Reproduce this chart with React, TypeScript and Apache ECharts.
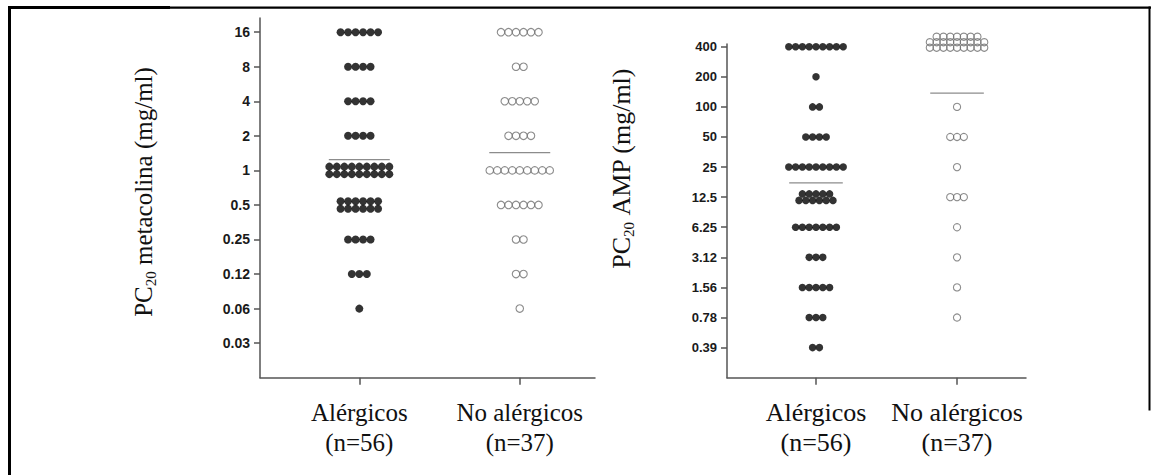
import React, { useEffect, useRef } from "react";
import * as echarts from "echarts";

// ---------- DATA ----------
const groupNames = ["Alérgicos", "No alérgicos"];
const groupCounts = [56, 37];

// Panel 1: PC20 metacolina (mg/ml)
const metaLevels = [16, 8, 4, 2, 1, 0.5, 0.25, 0.125, 0.0625, 0.03125];
const metaTickLabels = ["16", "8", "4", "2", "1", "0.5", "0.25", "0.12", "0.06", "0.03"];
// number of subjects per level, split into stacked rows (top to bottom)
const metaAlergicosRows = [[6], [4], [4], [4], [9, 9], [6, 6], [4], [3], [1], []];
const metaNoAlergicosRows = [[6], [2], [5], [4], [9], [6], [2], [2], [1], []];
const metaMeans = [1.24, 1.43];

// Panel 2: PC20 AMP (mg/ml)
const ampLevels = [400, 200, 100, 50, 25, 12.5, 6.25, 3.125, 1.5625, 0.78125, 0.390625];
const ampTickLabels = ["400", "200", "100", "50", "25", "12.5", "6.25", "3.12", "1.56", "0.78", "0.39"];
const ampAlergicosRows = [[9], [1], [2], [4], [9], [5, 6], [7], [3], [5], [3], [2]];
const ampNoAlergicosRows = [[7, 9, 9], [], [1], [3], [1], [3], [1], [1], [1], [1], []];
const ampMeans = [17.4, 137];

// ---------- HELPERS ----------
const SERIF = '"Liberation Serif", "Times New Roman", "DejaVu Serif", serif';
const SANS = '"Liberation Sans", Arial, Helvetica, sans-serif';

const log2pos = (v: number, base: number) => Math.log2(v / base);

function buildPoints(
  levels: number[],
  rows: number[][],
  base: number,
  groupX: number,
  spacing: number,
  rowGap: number,
  multiShift: number
) {
  const pts: any[] = [];
  levels.forEach((lv, i) => {
    const r = rows[i];
    const n = r.length;
    r.forEach((count, ri) => {
      const dy = (ri - (n - 1) / 2) * rowGap + (n > 2 ? multiShift : 0);
      for (let k = 0; k < count; k++) {
        const dx = (k - (count - 1) / 2) * spacing;
        pts.push({ value: [groupX, log2pos(lv, base)], symbolOffset: [dx, dy] });
      }
    });
  });
  return pts;
}

function tickFormatter(levels: number[], labels: string[], base: number) {
  return (val: number) => {
    const i = levels.findIndex((l) => Math.abs(log2pos(l, base) - val) < 1e-6);
    return i >= 0 ? labels[i] : "";
  };
}

const META_BASE = metaLevels[metaLevels.length - 1];
const AMP_BASE = ampLevels[ampLevels.length - 1];

function xLabelFormatter(v: number) {
  const i = Math.round(v) - 1;
  if (i < 0 || i >= groupNames.length) return "";
  return `{a|${groupNames[i]}}\n{a|(n=${groupCounts[i]})}`;
}

function makeYAxis(gridIndex: number, levels: number[], labels: string[], base: number, max: number, fontSize: number) {
  const vals = levels.map((l) => log2pos(l, base));
  return {
    gridIndex,
    type: "value",
    min: -1,
    max,
    interval: 1,
    splitLine: { show: false },
    axisLine: { show: true, onZero: false, lineStyle: { color: "#555", width: 1.5 } },
    axisTick: { show: true, length: 6, customValues: vals, lineStyle: { color: "#555", width: 1.5 } },
    axisLabel: {
      show: true,
      customValues: vals,
      formatter: tickFormatter(levels, labels, base),
      fontFamily: SANS,
      fontWeight: "bold",
      fontSize,
      color: "#1a1a1a",
      margin: 10,
    },
  };
}

function makeXAxis(gridIndex: number, min: number, max: number, fontSize: number) {
  return {
    gridIndex,
    type: "value",
    min,
    max,
    splitLine: { show: false },
    axisLine: { show: true, onZero: false, lineStyle: { color: "#555", width: 1.5 } },
    axisTick: { show: true, length: 7, customValues: [1, 2], lineStyle: { color: "#555", width: 1.5 } },
    axisLabel: {
      show: true,
      customValues: [1, 2],
      formatter: xLabelFormatter,
      margin: 20,
      rich: {
        a: { fontFamily: SERIF, fontSize, lineHeight: 30, color: "#111", align: "center" },
      },
    },
  };
}

const filledStyle = { color: "#000" };
const openStyle = { color: "rgba(255,255,255,0)", borderColor: "#6f6f6f", borderWidth: 1.1 };
const meanStyle = { color: "#8c8c8c", width: 1.3 };

function meanSeries(xi: number, groupX: number, mean: number, base: number, half: number) {
  const y = log2pos(mean, base);
  return {
    type: "line",
    xAxisIndex: xi,
    yAxisIndex: xi,
    symbol: "none",
    silent: true,
    lineStyle: meanStyle,
    data: [
      [groupX - half, y],
      [groupX + half, y],
    ],
  };
}

function buildOption() {
  const leftSpacing = 7.5;
  const rightSpacing = 6.8;
  return {
    animation: false,
    backgroundColor: "#fff",
    grid: [
      { left: 260, top: 18, width: 335, height: 359.7 },
      { left: 727, top: 44, width: 299, height: 333.7 },
    ],
    xAxis: [makeXAxis(0, 0.381, 2.469, 25), makeXAxis(1, 0.369, 2.489, 26)],
    yAxis: [
      makeYAxis(0, metaLevels, metaTickLabels, META_BASE, 9.41, 14),
      makeYAxis(1, ampLevels, ampTickLabels, AMP_BASE, 10.09, 13),
    ],
    series: [
      {
        type: "scatter",
        xAxisIndex: 0,
        yAxisIndex: 0,
        symbol: "circle",
        symbolSize: 8,
        silent: true,
        itemStyle: filledStyle,
        data: buildPoints(metaLevels, metaAlergicosRows, META_BASE, 1, leftSpacing, 7.5, 0),
      },
      {
        type: "scatter",
        xAxisIndex: 0,
        yAxisIndex: 0,
        symbol: "circle",
        symbolSize: 7.5,
        silent: true,
        itemStyle: openStyle,
        data: buildPoints(metaLevels, metaNoAlergicosRows, META_BASE, 2, leftSpacing, 7.5, 0),
      },
      meanSeries(0, 1, metaMeans[0], META_BASE, 0.19),
      meanSeries(0, 2, metaMeans[1], META_BASE, 0.19),
      {
        type: "scatter",
        xAxisIndex: 1,
        yAxisIndex: 1,
        symbol: "circle",
        symbolSize: 7.5,
        silent: true,
        itemStyle: filledStyle,
        data: buildPoints(ampLevels, ampAlergicosRows, AMP_BASE, 1, rightSpacing, 6.5, 0),
      },
      {
        type: "scatter",
        xAxisIndex: 1,
        yAxisIndex: 1,
        symbol: "circle",
        symbolSize: 7.2,
        silent: true,
        itemStyle: openStyle,
        data: buildPoints(ampLevels, ampNoAlergicosRows, AMP_BASE, 2, rightSpacing, 5.5, -4.5),
      },
      meanSeries(1, 1, ampMeans[0], AMP_BASE, 0.19),
      meanSeries(1, 2, ampMeans[1], AMP_BASE, 0.19),
    ],
    graphic: [
      // frame
      { type: "rect", silent: true, shape: { x: 8, y: 6, width: 162, height: 3 }, style: { fill: "#000" } },
      { type: "rect", silent: true, shape: { x: 170, y: 6.5, width: 981, height: 2.2 }, style: { fill: "#000" } },
      { type: "rect", silent: true, shape: { x: 8, y: 6, width: 3, height: 469 }, style: { fill: "#000" } },
      { type: "rect", silent: true, shape: { x: 1148.5, y: 6.5, width: 2, height: 404 }, style: { fill: "#000" } },
      // y-axis titles
      {
        type: "text",
        silent: true,
        x: 143,
        y: 192,
        rotation: Math.PI / 2,
        style: {
          text: "{a|PC}{s|20}{a| metacolina (mg/ml)}",
          align: "center",
          verticalAlign: "middle",
          rich: {
            a: { fontFamily: SERIF, fontSize: 25, lineHeight: 30, fill: "#111" },
            s: { fontFamily: SERIF, fontSize: 15, lineHeight: 14, verticalAlign: "bottom", fill: "#111" },
          },
        },
      },
      {
        type: "text",
        silent: true,
        x: 621,
        y: 168,
        rotation: Math.PI / 2,
        style: {
          text: "{a|PC}{s|20}{a| AMP (mg/ml)}",
          align: "center",
          verticalAlign: "middle",
          rich: {
            a: { fontFamily: SERIF, fontSize: 26, lineHeight: 30, fill: "#111" },
            s: { fontFamily: SERIF, fontSize: 15, lineHeight: 14, verticalAlign: "bottom", fill: "#111" },
          },
        },
      },
    ],
  };
}

export default function App() {
  const ref = useRef<HTMLDivElement>(null);
  useEffect(() => {
    if (!ref.current) return;
    const chart = echarts.init(ref.current, null, { renderer: "svg" });
    chart.setOption(buildOption() as any);
    return () => chart.dispose();
  }, []);
  return (
    <div
      ref={ref}
      style={{ position: "absolute", left: 0, top: 0, width: 1155, height: 475, background: "#fff" }}
    />
  );
}
